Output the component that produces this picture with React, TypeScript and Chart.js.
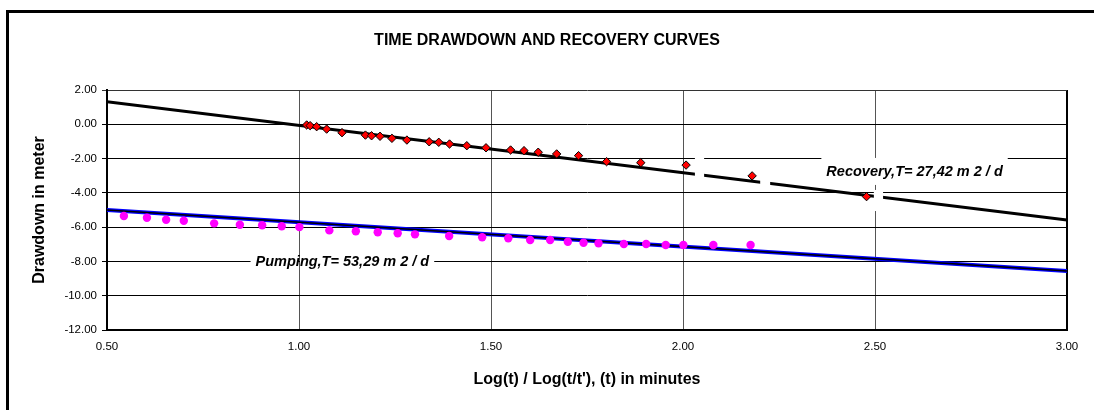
import React, { useEffect, useRef } from "react";
import { Chart, registerables } from "chart.js";

Chart.register(...registerables);

const FONT = '"Liberation Sans", Arial, Helvetica, sans-serif';

const chartTitle = "TIME DRAWDOWN AND RECOVERY CURVES";
const xAxisTitle = "Log(t) / Log(t/t'), (t) in minutes";
const yAxisTitle = "Drawdown in meter";

const xTicks = [0.5, 1.0, 1.5, 2.0, 2.5, 3.0];
const yTicks = [2, 0, -2, -4, -6, -8, -10, -12];

// Recovery measurements (red diamonds)
const recoveryX = [1.020, 1.029, 1.046, 1.072, 1.112, 1.173, 1.189, 1.211, 1.242, 1.281, 1.339, 1.364, 1.392, 1.437, 1.487, 1.551, 1.586, 1.623, 1.671, 1.728, 1.801, 1.890, 2.008, 2.180, 2.478];
const recoveryY = [-0.04, -0.08, -0.14, -0.28, -0.49, -0.63, -0.67, -0.70, -0.82, -0.92, -1.02, -1.05, -1.15, -1.25, -1.37, -1.50, -1.54, -1.63, -1.73, -1.83, -2.18, -2.24, -2.38, -3.01, -4.22];

// Pumping measurements (magenta circles)
const pumpingX = [0.544, 0.604, 0.654, 0.700, 0.779, 0.846, 0.904, 0.955, 1.001, 1.079, 1.148, 1.205, 1.257, 1.302, 1.391, 1.477, 1.545, 1.602, 1.654, 1.700, 1.741, 1.780, 1.846, 1.904, 1.955, 2.001, 2.079, 2.176];
const pumpingY = [-5.35, -5.45, -5.57, -5.63, -5.78, -5.86, -5.89, -5.95, -6.00, -6.19, -6.24, -6.30, -6.36, -6.42, -6.52, -6.59, -6.65, -6.75, -6.75, -6.85, -6.91, -6.94, -6.98, -6.98, -7.04, -7.04, -7.04, -7.04];

// Straight-line fits
const recoveryFitX = [0.5, 3.0];
const recoveryFitY = [1.32, -5.58];
const pumpingFitX = [0.5, 3.0];
const pumpingFitY = [-5.0, -8.56];

// Annotation labels
const labelTexts = ["Recovery,T= 27,42 m 2 / d", "Pumping,T= 53,29 m 2 / d"];
const labelX = [2.603, 1.113];
const labelY = [-2.78, -8.03];

const toPoints = (xs: number[], ys: number[]) => xs.map((x, i) => ({ x, y: ys[i] }));

const framePlugin = {
  id: "frame",
  beforeDraw(chart: any) {
    const { ctx, width, height } = chart;
    ctx.save();
    ctx.fillStyle = "#ffffff";
    ctx.fillRect(0, 0, width, height);
    ctx.fillStyle = "#000000";
    ctx.fillRect(6, 10, 3, height - 10);
    ctx.fillRect(6, 10, width - 6, 3);
    ctx.restore();
  },
};

const labelPlugin = {
  id: "trendLabels",
  afterDatasetsDraw(chart: any) {
    const { ctx } = chart;
    const xs = chart.scales.x;
    const ys = chart.scales.y;
    ctx.save();
    ctx.fillStyle = "#ffffff";
    // small white gaps seen on the recovery line
    const strips = [
      [2.031, 2.055, -1.80, -3.60],
      [2.201, 2.227, -2.96, -3.83],
      [2.497, 2.521, -3.83, -5.06],
    ];
    strips.forEach(([x0, x1, y0, y1]) => {
      const px0 = xs.getPixelForValue(x0);
      const px1 = xs.getPixelForValue(x1);
      const py0 = ys.getPixelForValue(y0);
      const py1 = ys.getPixelForValue(y1);
      ctx.fillRect(px0, py0, px1 - px0, py1 - py0);
    });

    ctx.font = "italic bold 14.5px " + FONT;
    ctx.textAlign = "center";
    ctx.textBaseline = "middle";
    labelTexts.forEach((t, i) => {
      const cx = xs.getPixelForValue(labelX[i]);
      const cy = ys.getPixelForValue(labelY[i]);
      const w = ctx.measureText(t).width + 10;
      ctx.fillStyle = "#ffffff";
      if (i === 0) {
        ctx.fillRect(cx - w / 2, cy - 14, w, 27);
      } else {
        const gx = xs.getPixelForValue(1.0);
        ctx.fillRect(cx - w / 2, cy - 4, gx - 1 - (cx - w / 2), 8);
        ctx.fillRect(gx + 1, cy - 4, cx + w / 2 - gx - 1, 8);
      }
      ctx.fillStyle = "#000000";
      ctx.fillText(t, cx, cy);
    });
    ctx.restore();
  },
};

export default function App() {
  const canvasRef = useRef<HTMLCanvasElement | null>(null);

  useEffect(() => {
    if (!canvasRef.current) return;
    const chart = new Chart(canvasRef.current, {
      type: "scatter",
      data: {
        datasets: [
          {
            label: "Recovery",
            data: toPoints(recoveryX, recoveryY),
            pointStyle: "rectRot",
            pointRadius: 4.2,
            backgroundColor: "#ff0000",
            borderColor: "#000000",
            borderWidth: 1,
            showLine: false,
          },
          {
            label: "Pumping",
            data: toPoints(pumpingX, pumpingY),
            pointStyle: "circle",
            pointRadius: 4.2,
            backgroundColor: "#ff00ff",
            borderColor: "#ff00ff",
            borderWidth: 0,
            showLine: false,
          },
          {
            label: "Recovery fit",
            data: toPoints(recoveryFitX, recoveryFitY),
            showLine: true,
            borderColor: "#000000",
            borderWidth: 3,
            pointRadius: 0,
            fill: false,
          },
          {
            label: "Pumping fit core",
            data: toPoints(pumpingFitX, pumpingFitY),
            showLine: true,
            borderColor: "#000000",
            borderWidth: 1.5,
            pointRadius: 0,
            fill: false,
          },
          {
            label: "Pumping fit",
            data: toPoints(pumpingFitX, pumpingFitY),
            showLine: true,
            borderColor: "#0000ff",
            borderWidth: 4,
            pointRadius: 0,
            fill: false,
          },
        ],
      },
      options: {
        animation: false,
        responsive: false,
        devicePixelRatio: 1,
        layout: { padding: 0 },
        plugins: {
          legend: { display: false },
          tooltip: { enabled: false },
          title: {
            display: true,
            text: chartTitle,
            color: "#000000",
            font: { family: FONT, size: 16, weight: "bold" },
            padding: { top: 31.4, bottom: 39.4 },
          },
        },
        scales: {
          x: {
            type: "linear",
            position: "bottom",
            min: xTicks[0],
            max: xTicks[xTicks.length - 1],
            afterBuildTicks: (scale: any) => {
              scale.ticks = xTicks.map((v) => ({ value: v }));
            },
            afterFit: (scale: any) => {
              scale.height = 80;
            },
            ticks: {
              color: "#000000",
              font: { family: FONT, size: 11.5 },
              padding: 10,
              maxRotation: 0,
              callback: (v: any) => Number(v).toFixed(2),
            },
            grid: {
              drawTicks: false,
              color: (c: any) => (c.tick && c.tick.value === 3 ? "#000000" : "#555555"),
              lineWidth: (c: any) => (c.tick && c.tick.value === 3 ? 2 : 1),
            },
            border: { display: true, color: "#000000", width: 2 },
            title: {
              display: true,
              text: xAxisTitle,
              color: "#000000",
              font: { family: FONT, size: 16, weight: "bold" },
              padding: { top: 0, bottom: 20.4 },
            },
          },
          y: {
            type: "linear",
            position: "left",
            min: yTicks[yTicks.length - 1],
            max: yTicks[0],
            afterBuildTicks: (scale: any) => {
              scale.ticks = yTicks.map((v) => ({ value: v }));
            },
            afterFit: (scale: any) => {
              scale.width = 107;
            },
            ticks: {
              color: "#000000",
              font: { family: FONT, size: 11.5 },
              padding: 5,
              callback: (v: any) => Number(v).toFixed(2),
            },
            grid: {
              drawTicks: true,
              tickLength: 5,
              color: (c: any) => (c.tick && c.tick.value === 2 ? "#333333" : "#000000"),
              lineWidth: 1,
            },
            border: { display: true, color: "#000000", width: 2 },
            title: {
              display: true,
              text: yAxisTitle,
              color: "#000000",
              font: { family: FONT, size: 16, weight: "bold" },
              padding: { top: 29.9, bottom: 0 },
            },
          },
          y2: {
            type: "linear",
            position: "right",
            min: 0,
            max: 1,
            display: true,
            afterFit: (scale: any) => {
              scale.width = 27;
            },
            ticks: { display: false },
            grid: { display: false, drawTicks: false },
            border: { display: false },
          },
        },
      },
      plugins: [framePlugin, labelPlugin],
    } as any);
    return () => chart.destroy();
  }, []);

  return (
    <div style={{ position: "absolute", left: 0, top: 0, width: 1094, height: 410, background: "#fff" }}>
      <canvas ref={canvasRef} width={1094} height={410} style={{ display: "block" }} />
    </div>
  );
}
